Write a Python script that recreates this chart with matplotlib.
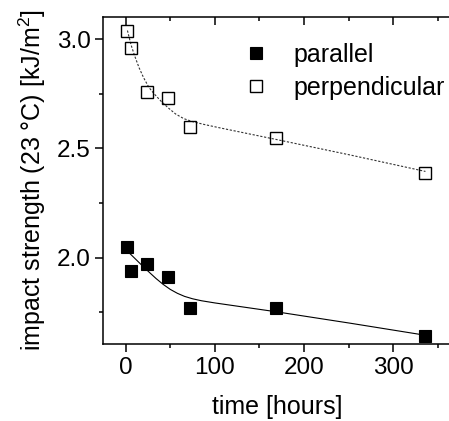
import matplotlib
matplotlib.use('Agg')
import matplotlib.pyplot as plt
from matplotlib.ticker import MultipleLocator

plt.rcParams['font.family'] = ['Liberation Sans', 'DejaVu Sans']
plt.rcParams['mathtext.fontset'] = 'custom'
plt.rcParams['mathtext.rm'] = 'Liberation Sans'
plt.rcParams['mathtext.it'] = 'Liberation Sans:italic'

# measured points
time_h = [2, 6, 24, 48, 72, 168, 336]
parallel = [2.05, 1.94, 1.97, 1.91, 1.77, 1.77, 1.64]
perpendicular = [3.04, 2.96, 2.76, 2.73, 2.60, 2.55, 2.39]

# fitted curves
fit_par_t = [2, 10, 18, 26, 34, 42, 50, 58, 66, 75, 85, 100, 168, 252, 336]
fit_par_y = [2.030, 1.998, 1.966, 1.935, 1.905, 1.878, 1.855, 1.837, 1.823,
             1.812, 1.803, 1.793, 1.753, 1.700, 1.645]
fit_perp_t = [2, 6, 10, 15, 20, 26, 32, 40, 48, 56, 65, 75, 88, 105, 168, 252, 336]
fit_perp_y = [3.040, 2.975, 2.925, 2.870, 2.825, 2.780, 2.750, 2.715, 2.685,
              2.658, 2.637, 2.623, 2.610, 2.595, 2.542, 2.470, 2.395]

fig = plt.figure(figsize=(4.49, 4.21), dpi=100)
ax = fig.add_axes([103 / 449, 77 / 421, 348.5 / 449, 327 / 421])

ax.plot(fit_par_t, fit_par_y, '-', color='black', linewidth=0.8)
ax.plot(fit_perp_t, fit_perp_y, color='#333333', linewidth=0.8, linestyle=(0, (2, 1.5)))
ax.plot(time_h, parallel, 's', color='black', markersize=9, mew=0.8, label='parallel')
ax.plot(time_h, perpendicular, 's', mfc='none', mec='black', markersize=9, mew=1.0,
        label='perpendicular')

ax.set_xlim(-25.4, 365.2)
ax.set_ylim(1.605, 3.102)
ax.xaxis.set_major_locator(MultipleLocator(100))
ax.xaxis.set_minor_locator(MultipleLocator(50))
ax.yaxis.set_major_locator(MultipleLocator(0.5))
ax.yaxis.set_minor_locator(MultipleLocator(0.25))
ax.yaxis.set_major_formatter(matplotlib.ticker.FormatStrFormatter('%.1f'))

for s in ax.spines.values():
    s.set_linewidth(1.1)
ax.spines['right'].set_visible(False)

ax.tick_params(which='both', top=True, right=False, width=1.1, labelsize=17.5)
ax.tick_params(axis='x', which='both', direction='out')
ax.tick_params(axis='y', which='both', direction='out')
ax.tick_params(which='major', length=5.5)
ax.tick_params(which='minor', length=3)
ax.xaxis.set_tick_params(which='both', top=True)
for t in ax.xaxis.get_major_ticks() + ax.xaxis.get_minor_ticks():
    t.tick2line.set_marker(3)  # top ticks pointing inward

ax.set_xlabel('time [hours]', fontsize=18, labelpad=12)
ax.set_ylabel(r'impact strength (23 °C) [kJ/m$^2$]', fontsize=18, labelpad=6)

ax.legend(loc='upper left', bbox_to_anchor=(243.5 / 449, 1 - 43 / 421),
          bbox_transform=fig.transFigure, frameon=False, fontsize=18,
          handlelength=1.0, handletextpad=1.0, borderpad=0, borderaxespad=0,
          labelspacing=0.36, numpoints=1)

plt.savefig('out.png', dpi=100)
plt.close()
